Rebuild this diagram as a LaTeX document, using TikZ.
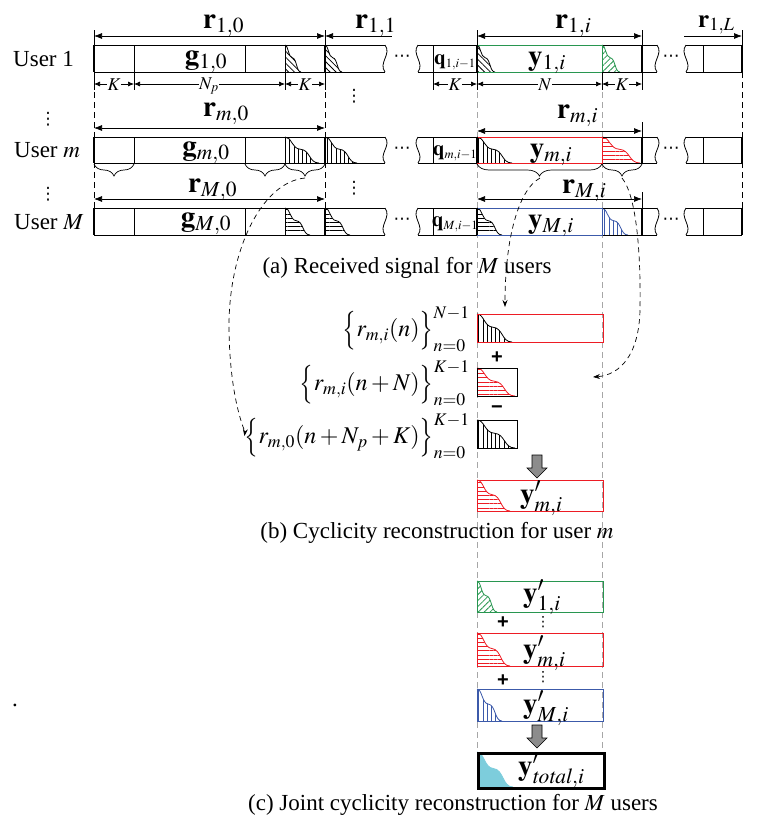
\documentclass[tikz,border=0pt]{standalone}
\usepackage{graphicx}
\usepackage{mathptmx}
\usepackage{fontspec}
\setmainfont{Liberation Serif}
\newfontfamily\sansbf{Liberation Sans}
\newfontfamily\djv{DejaVu Sans}
\usetikzlibrary{arrows.meta,patterns.meta,decorations.pathreplacing}
\definecolor{cgreen}{RGB}{40,150,80}
\definecolor{cred}{RGB}{237,28,36}
\definecolor{cblue}{RGB}{60,90,170}
\definecolor{ccyan}{RGB}{125,205,220}
\newcommand\lbr{\mathopen{\vcenter{\hbox{\scalebox{1}[1.35]{$\big\{$}}}}}
\newcommand\rbr{\mathclose{\vcenter{\hbox{\scalebox{1}[1.35]{$\big\}$}}}}}
\tikzset{
 seg/.style={line width=0.8pt},
 thk/.style={line width=2.4pt},
 dimtick/.style={line width=0.7pt},
 dimar/.style={line width=0.7pt,{Latex[length=8pt,width=6pt]}-{Latex[length=8pt,width=6pt]}},
 dimsm/.style={line width=0.7pt,{Latex[length=6pt,width=5pt]}-{Latex[length=6pt,width=5pt]}},
 dimr/.style={line width=0.7pt,-{Latex[length=8pt,width=6pt]}},
 diml/.style={line width=0.7pt,{Latex[length=8pt,width=6pt]}-},
 gdash/.style={black!35, line width=0.7pt, dash pattern=on 6pt off 4pt},
 kdash/.style={black, line width=0.7pt, dash pattern=on 6pt off 4pt},
 curv/.style={black, line width=0.7pt, dash pattern=on 5pt off 4pt, -{Stealth[length=7pt,width=5pt]}},
 biglab/.style={font=\fontsize{29}{34}\selectfont, inner sep=0pt},
 qlab/.style={font=\fontsize{21}{25}\selectfont, inner sep=0pt},
 setlab/.style={font=\fontsize{24}{28}\selectfont, inner sep=0pt},
 klab/.style={font=\fontsize{18}{22}\selectfont, inner sep=0.5pt, fill=white},
 txtlab/.style={font=\fontsize{23}{28}\selectfont, inner sep=0pt},
 dotlab/.style={font=\fontsize{17}{18}\selectfont\djv, inner sep=0pt},
 vdlab/.style={font=\fontsize{17}{18}\selectfont\djv, inner sep=0pt},
 vdsm/.style={font=\fontsize{14}{15}\selectfont\djv, inner sep=0pt},
 opl/.style={font=\fontsize{20}{24}\selectfont\sansbf\bfseries, inner sep=0pt},
 pv/.style={pattern={Lines[angle=90,distance=4.2pt,line width=0.8pt]}},
 ph/.style={pattern={Lines[angle=0,distance=4.2pt,line width=0.8pt]}},
 pne/.style={pattern={Lines[angle=45,distance=4.2pt,line width=0.8pt]}},
 pnw/.style={pattern={Lines[angle=-45,distance=4.2pt,line width=0.8pt]}},
 pcy/.style={fill=ccyan},
 brc/.style={decorate, decoration={brace, mirror, amplitude=12pt}, line width=0.7pt},
 blk/.style={fill=black!45, draw=black, line width=0.6pt},
 rbox/.style={seg, anchor=north west, inner sep=0pt, minimum width=126pt},
 sbox/.style={seg, anchor=north west, inner sep=0pt, minimum width=40pt},
}
% tail: x0, top, w, h, pattern style, colour
\newcommand\tail[6]{%
 \fill[#5, pattern color=#6] (#1,#2) .. controls (#1+0.2*#3,#2) and (#1+0.2*#3,#2+0.45*#4) .. (#1+0.45*#3,#2+0.47*#4) .. controls (#1+0.75*#3,#2+0.5*#4) and (#1+0.7*#3,#2+#4) .. (#1+#3,#2+#4) -- (#1,#2+#4) -- cycle;
 \draw[#6, line width=0.8pt] (#1,#2) .. controls (#1+0.2*#3,#2) and (#1+0.2*#3,#2+0.45*#4) .. (#1+0.45*#3,#2+0.47*#4) .. controls (#1+0.75*#3,#2+0.5*#4) and (#1+0.7*#3,#2+#4) .. (#1+#3,#2+#4);
}
% left segment of a row: top, bottom, name prefix
\newcommand\leftseg[3]{%
 \draw[seg] (94,#1) -- (385,#1) (94,#2) -- (385,#2)
   (134,#1) -- (134,#2) (245,#1) -- (245,#2) (285,#1) -- (285,#2);
 \draw[seg] (385,#1) .. controls (392,#1+9) and (378,#2-9) .. (385,#2);
 \draw[thk] (94,#1) -- (94,#2) (325,#1) -- (325,#2);
 \node[dotlab] (#3d1) at (402,{(#1+#2)/2}) {⋯};
}
% right segments: top, bottom, colour, name prefix
\newcommand\rightseg[4]{%
 \draw[seg] (418,#1) -- (657,#1) (418,#2) -- (657,#2) (433,#1) -- (433,#2);
 \draw[seg,#3] (477,#1) -- (602,#1) -- (602,#2) -- (477,#2);
 \draw[seg] (418,#1) .. controls (411,#1+9) and (425,#2-9) .. (418,#2);
 \draw[seg] (657,#1) .. controls (664,#1+9) and (650,#2-9) .. (657,#2);
 \draw[thk] (477,#1) -- (477,#2) (642,#1) -- (642,#2);
 \draw[seg] (686,#1) -- (742,#1) (686,#2) -- (742,#2) (703,#1) -- (703,#2);
 \draw[seg] (686,#1) .. controls (679,#1+9) and (693,#2-9) .. (686,#2);
 \draw[thk] (742,#1) -- (742,#2);
 \node[dotlab] (#4d2) at (671,{(#1+#2)/2}) {⋯};
}
\newcommand\blockarrow[2]{% x centre, top
 \draw[blk] (#1-5,#2) -- (#1+5,#2) -- (#1+5,#2+13) -- (#1+10,#2+13) -- (#1,#2+23) -- (#1-10,#2+13) -- (#1-5,#2+13) -- cycle;
}
\begin{document}
\begin{tikzpicture}[x=1pt,y=-1pt]
\useasboundingbox (0,0) rectangle (767,823);

% guide lines
\draw[gdash] (477,72) -- (477,752);
\draw[gdash] (602,72) -- (602,752);
\draw[kdash] (94,72) -- (94,208);
\draw[kdash] (325,72) -- (325,208);
\draw[kdash] (742,72) -- (742,208);

% row labels
\node[txtlab, anchor=base west] (u1) at (13,66) {User 1};
\node[txtlab, anchor=base west] (um) at (14,157) {User $m$};
\node[txtlab, anchor=base west] (uM) at (14,229) {User $M$};
\node[vdlab] (v1) at (48,119) {⋮};
\node[vdlab] (v2) at (48,194) {⋮};
\node[vdlab] (v3) at (354,96) {⋮};
\node[vdlab] (v4) at (354,188) {⋮};

% tails row 1
\tail{285}{45}{16}{27}{pnw}{black}
\tail{325}{45}{17}{27}{pnw}{black}
\tail{477}{45}{18}{27}{pnw}{black}
\tail{602}{45}{18}{27}{pne}{cgreen}
% tails row m
\tail{285}{137}{34}{26}{pv}{black}
\tail{325}{137}{32}{26}{pv}{black}
\tail{477}{137}{35}{26}{pv}{black}
\tail{602}{137}{38}{26}{ph}{cred}
% tails row M
\tail{285}{208}{25}{27}{ph}{black}
\tail{325}{208}{25}{27}{ph}{black}
\tail{477}{208}{25}{27}{ph}{black}
\tail{602}{208}{26}{27}{pv}{cblue}

% frames
\leftseg{45}{72}{a}
\rightseg{45}{72}{cgreen}{a}
\leftseg{137}{163}{b}
\rightseg{137}{163}{cred}{b}
\leftseg{208}{235}{c}
\rightseg{208}{235}{cblue}{c}

% labels inside rows
\node[biglab, anchor=base] (g1) at (206,64) {$\mathbf{g}_{1,0}$};
\node[biglab, anchor=base] (gm) at (206,155) {$\mathbf{g}_{m,0}$};
\node[biglab, anchor=base] (gM) at (206,226) {$\mathbf{g}_{M,0}$};
\node[qlab, anchor=base] (q1) at (455,64) {$\mathbf{q}_{\scriptscriptstyle 1,i-1}$};
\node[qlab, anchor=base] (qm) at (455,155) {$\mathbf{q}_{\scriptscriptstyle m,i-1}$};
\node[qlab, anchor=base] (qM) at (455,226) {$\mathbf{q}_{\scriptscriptstyle M,i-1}$};
\node[biglab, anchor=base] (y1) at (547,65) {$\mathbf{y}_{1,i}$};
\node[biglab, anchor=base] (ym) at (551,157) {$\mathbf{y}_{m,i}$};
\node[biglab, anchor=base] (yM) at (551,228) {$\mathbf{y}_{M,i}$};

% top dimension arrows
\draw[dimtick] (94,30) -- (94,45) (325,30) -- (325,45) (477,30) -- (477,45) (642,30) -- (642,45) (742,30) -- (742,45);
\draw[dimar] (94,36) -- (325,36);
\draw[diml] (325,36) -- (392,36);
\draw[dimar] (477,36) -- (642,36);
\draw[dimr] (684,36) -- (742,36);
\node[biglab, anchor=base west] (r10) at (203,28) {$\mathbf{r}_{1,0}$};
\node[biglab, anchor=base west] (r11) at (355,28) {$\mathbf{r}_{1,1}$};
\node[biglab, anchor=base west] (r1i) at (555,28) {$\mathbf{r}_{1,i}$};
\node[biglab, font=\fontsize{25}{30}\selectfont, anchor=base west] (r1L) at (698,27) {$\mathbf{r}_{1,L}$};

% K / N dimensions
\draw[dimtick] (94,72) -- (94,90) (134,72) -- (134,90) (285,72) -- (285,90) (325,72) -- (325,90)
  (433,72) -- (433,90) (477,72) -- (477,90) (602,72) -- (602,90) (642,72) -- (642,90);
\draw[dimsm] (94,84) -- (134,84);
\draw[dimsm] (134,84) -- (285,84);
\draw[dimsm] (285,84) -- (325,84);
\draw[dimsm] (433,84) -- (477,84);
\draw[dimsm] (477,84) -- (602,84);
\draw[dimsm] (602,84) -- (642,84);
\node[klab] (k1) at (114,85) {$K$};
\node[klab] (np) at (209,86) {$N_p$};
\node[klab] (k2) at (305,85) {$K$};
\node[klab] (k3) at (455,85) {$K$};
\node[klab] (nn) at (545,85) {$N$};
\node[klab] (k4) at (622,85) {$K$};

% row m and M dimension arrows
\draw[dimar] (94,128) -- (325,128);
\draw[dimtick] (642,122) -- (642,137);
\draw[dimar] (477,131) -- (642,131);
\node[biglab, anchor=base west] (rm0) at (203,116) {$\mathbf{r}_{m,0}$};
\node[biglab, anchor=base west] (rmi) at (557,118) {$\mathbf{r}_{m,i}$};
\draw[dimar] (94,199) -- (325,199);
\draw[dimtick] (642,192) -- (642,208);
\draw[dimar] (477,199) -- (642,199);
\node[biglab, anchor=base west] (rM0) at (188,192) {$\mathbf{r}_{M,0}$};
\node[biglab, anchor=base west] (rMi) at (562,193) {$\mathbf{r}_{M,i}$};

% braces under row m
\draw[brc] (94,164) -- (134,164);
\draw[brc] (245,164) -- (285,164);
\draw[brc] (285,164) -- (325,164);
\draw[brc] (477,164) -- (602,164);
\draw[brc] (602,164) -- (642,164);
\coordinate (tA) at (305,178);
\coordinate (tB) at (540,178);
\coordinate (tC) at (622,178);

\node[txtlab] (capa) at (407,268) {(a) Received signal for $M$ users};

% part (b)
\tail{477}{314}{35}{28}{pv}{black}
\node[rbox, draw=cred, minimum height=28pt] (b1) at (477,314) {};
\node[opl] (plus1) at (497,358) {+};
\tail{477}{368}{38}{28}{ph}{cred}
\node[sbox, draw=black, minimum height=28pt] (b2) at (477,368) {};
\node[opl] (minus1) at (497,410) {\char"2212};
\tail{477}{420}{38}{28}{pv}{black}
\node[sbox, draw=black, minimum height=28pt] (b3) at (477,420) {};
\blockarrow{537}{455}
\tail{477}{480}{33}{31}{ph}{cred}
\node[rbox, draw=cred, minimum height=31pt] (b4) at (477,480) {};
\node[biglab, anchor=base west] (yp) at (520,503) {$\mathbf{y}'_{m,i}$};

\node[setlab, anchor=east] (s1) at (470,329) {$\lbr r_{m,i}(n)\rbr_{n=0}^{N-1}$};
\node[setlab, anchor=east] (s2) at (470,383) {$\lbr r_{m,i}(n+N)\rbr_{n=0}^{K-1}$};
\node[setlab, anchor=east] (s3) at (470,436) {$\lbr r_{m,0}(n+N_p+K)\rbr_{n=0}^{K-1}$};
\coordinate (eB) at (505,307);
\coordinate (eC) at (593,377);

\draw[curv] (tA) .. controls (262,182) and (228,250) .. (229,330) .. controls (230,400) and (245,432) .. (s3.west);
\draw[curv] (tB) .. controls (518,190) and (505,240) .. (eB);
\draw[curv] (tC) .. controls (636,195) and (641,250) .. (640,310) .. controls (639,355) and (620,375) .. (eC);

\node[txtlab] (capb) at (437,533) {(b) Cyclicity reconstruction for user $m$};

% part (c)
\tail{477}{581}{20}{31}{pne}{cgreen}
\node[rbox, draw=cgreen, minimum height=31pt] (c1) at (477,581) {};
\node[biglab, anchor=base west] (yc1) at (523,602) {$\mathbf{y}'_{1,i}$};
\node[opl] (plus2) at (503,623) {+};
\node[vdsm] (v5) at (543,622.5) {⋮};
\tail{477}{633}{33}{33}{ph}{cred}
\node[rbox, draw=cred, minimum height=33pt] (c2) at (477,633) {};
\node[biglab, anchor=base west] (yc2) at (523,658) {$\mathbf{y}'_{m,i}$};
\node[opl] (plus3) at (503,681) {+};
\node[vdsm] (v6) at (543,677.5) {⋮};
\tail{477}{689}{25}{32}{pv}{cblue}
\node[rbox, draw=cblue, minimum height=32pt] (c3) at (477,689) {};
\node[biglab, anchor=base west] (yc3) at (523,713) {$\mathbf{y}'_{M,i}$};
\blockarrow{537}{725}
\tail{477}{752}{36}{35}{pcy}{ccyan}
\node[rbox, draw=black, line width=3pt, minimum height=35pt] (c4) at (477,752) {};
\node[biglab, anchor=base west] (yc4) at (518,775) {$\mathbf{y}'_{\mathit{total},i}$};

\node[txtlab] (capc) at (453,805) {(c) Joint cyclicity reconstruction for $M$ users};
\node[txtlab] (dot) at (15,705) {.};
\end{tikzpicture}
\end{document}
